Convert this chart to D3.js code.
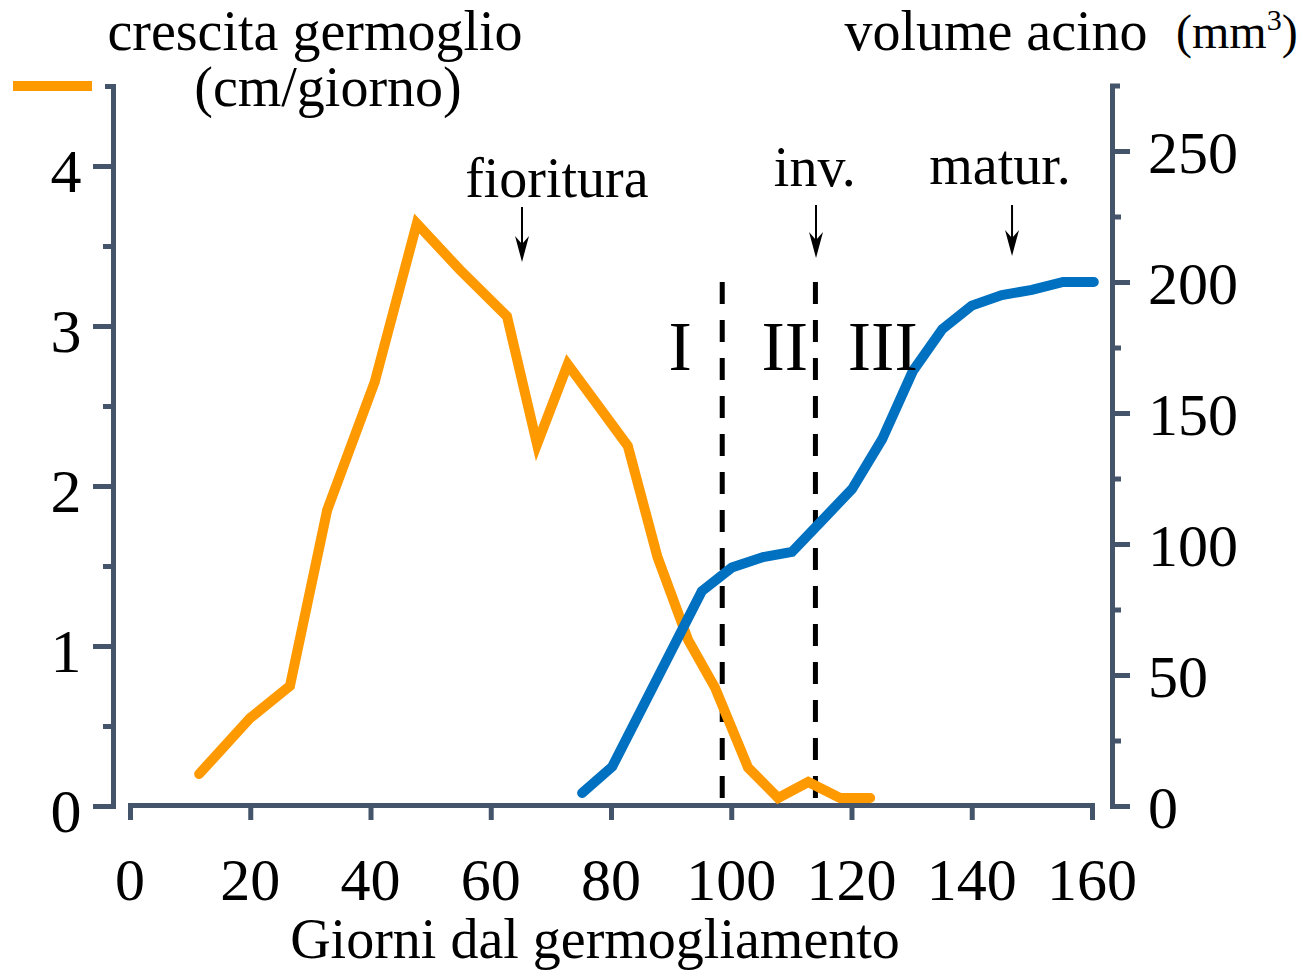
<!DOCTYPE html>
<html>
<head>
<meta charset="utf-8">
<script src="https://cdn.jsdelivr.net/npm/d3@7"></script>
<style>
  html, body { margin: 0; padding: 0; background: #fff; }
  svg { display: block; font-family: "Liberation Serif", "Times New Roman", serif; }
</style>
</head>
<body>
<svg id="chart" width="1303" height="976"></svg>
<script>
// Shoot growth rate (cm/day) by days from bud break
const shootDays   = [11.5, 20, 26.6, 32.8, 40.7, 47.7, 54.9, 62.7, 67.7, 72.8, 82.8, 87.7, 92.8, 97.3, 102.8, 107.8, 112.8, 118.1, 123.1];
const shootGrowth = [0.2, 0.55, 0.75, 1.85, 2.65, 3.64, 3.35, 3.06, 2.26, 2.76, 2.25, 1.56, 1.04, 0.74, 0.24, 0.05, 0.15, 0.05, 0.05];

// Berry volume (mm3) by days from bud break
const berryDays   = [75.2, 80.2, 95.1, 100.1, 105.3, 110.1, 115.1, 120.1, 125.1, 130.2, 135.1, 140, 145, 150, 155.2, 160.3];
const berryVolume = [5, 15, 82, 91, 95, 97, 109, 121, 140, 166, 182, 191, 195, 197, 200, 200];

// Axis ticks
const xTicks      = [0, 20, 40, 60, 80, 100, 120, 140, 160];
const leftTicks   = [0, 1, 2, 3, 4];
const leftMinor   = [0.5, 1.5, 2.5, 3.5];
const rightTicks  = [0, 50, 100, 150, 200, 250];
const rightMinor  = [25, 75, 125, 175, 225];

// Berry development phase boundaries and stage markers
const phaseBounds = [98.5, 114];
const phaseLabels = [{ t: "I", d: 91.5 }, { t: "II", d: 108.9 }, { t: "III", d: 125.2 }];
const stageMarks  = [
  { t: "fioritura", d: 65.2,  td: 71,    ty: 197, a0: 207, a1: 262 },
  { t: "inv.",      d: 114.1, td: 113.9, ty: 186, a0: 205, a1: 258 },
  { t: "matur.",    d: 146.7, td: 144.7, ty: 184, a0: 205, a1: 256 }
];

const AXIS = "#44546A", ORANGE = "#FF9900", BLUE = "#0070C0";

const svg = d3.select("#chart");

const x  = d3.scaleLinear().domain([0, 160]).range([130, 1092]);
const yL = d3.scaleLinear().domain([0, 4.5]).range([806, 86]);
const yR = d3.scaleLinear().domain([0, 275]).range([806, 85.5]);

function styleAxis(g) {
  g.selectAll("path, line").attr("stroke", AXIS).attr("stroke-width", 5);
  g.selectAll("text").remove();
}

// X axis
const gx = svg.append("g").attr("transform", "translate(0,805)")
  .call(d3.axisBottom(x).tickValues(xTicks).tickSize(15).tickSizeOuter(15));
styleAxis(gx);
svg.append("g").selectAll("text").data(xTicks).join("text")
  .attr("x", d => x(d)).attr("y", 900)
  .attr("text-anchor", "middle").attr("font-size", 60).attr("fill", "#000")
  .text(d => d);

// Left axis
const gl = svg.append("g").attr("transform", "translate(113,0)")
  .call(d3.axisLeft(yL).tickValues(leftTicks).tickSize(20).tickSizeOuter(8));
styleAxis(gl);
const glm = svg.append("g").attr("transform", "translate(113,0)")
  .call(d3.axisLeft(yL).tickValues(leftMinor).tickSize(10).tickSizeOuter(0));
styleAxis(glm);
glm.select(".domain").remove();
svg.append("g").selectAll("text").data(leftTicks).join("text")
  .attr("x", 66).attr("y", d => yL(d)).attr("dy", "0.42em")
  .attr("text-anchor", "middle").attr("font-size", 62).attr("fill", "#000")
  .text(d => d);

// Right axis
const gr = svg.append("g").attr("transform", "translate(1112,0)")
  .call(d3.axisRight(yR).tickValues(rightTicks).tickSize(18).tickSizeOuter(8));
styleAxis(gr);
const grm = svg.append("g").attr("transform", "translate(1112,0)")
  .call(d3.axisRight(yR).tickValues(rightMinor).tickSize(9).tickSizeOuter(0));
styleAxis(grm);
grm.select(".domain").remove();
svg.append("g").selectAll("text").data(rightTicks).join("text")
  .attr("x", 1148).attr("y", d => yR(d)).attr("dy", "0.36em")
  .attr("text-anchor", "start").attr("font-size", 60).attr("fill", "#000")
  .text(d => d);

// Phase boundaries (dashed)
svg.append("g").selectAll("line").data(phaseBounds).join("line")
  .attr("x1", d => x(d)).attr("x2", d => x(d))
  .attr("y1", yR(200)).attr("y2", yL(0))
  .attr("stroke", "#000").attr("stroke-width", 5)
  .attr("stroke-dasharray", "22,16");

// Series lines
const lineL = d3.line().x(d => x(d[0])).y(d => yL(d[1]));
const lineR = d3.line().x(d => x(d[0])).y(d => yR(d[1]));

svg.append("path")
  .datum(shootDays.map((d, i) => [d, shootGrowth[i]]))
  .attr("d", lineL).attr("fill", "none")
  .attr("stroke", ORANGE).attr("stroke-width", 10)
  .attr("stroke-linecap", "round").attr("stroke-linejoin", "miter");

svg.append("path")
  .datum(berryDays.map((d, i) => [d, berryVolume[i]]))
  .attr("d", lineR).attr("fill", "none")
  .attr("stroke", BLUE).attr("stroke-width", 10)
  .attr("stroke-linecap", "round").attr("stroke-linejoin", "miter");

// Phase labels
svg.append("g").selectAll("text").data(phaseLabels).join("text")
  .attr("x", d => x(d.d)).attr("y", 370)
  .attr("text-anchor", "middle").attr("font-size", 70).attr("fill", "#000")
  .text(d => d.t);

// Stage markers with arrows
const marks = svg.append("g").selectAll("g").data(stageMarks).join("g");
marks.append("text")
  .attr("x", d => x(d.td)).attr("y", d => d.ty)
  .attr("text-anchor", "middle").attr("font-size", 56).attr("fill", "#000")
  .text(d => d.t);
marks.append("line")
  .attr("x1", d => x(d.d)).attr("x2", d => x(d.d))
  .attr("y1", d => d.a0).attr("y2", d => d.a1 - 10)
  .attr("stroke", "#000").attr("stroke-width", 2);
marks.append("path")
  .attr("d", d => {
    const cx = x(d.d), t = d.a1;
    return `M${cx},${t} L${cx - 7},${t - 26} L${cx},${t - 18} L${cx + 7},${t - 26} Z`;
  })
  .attr("fill", "#000");

// Axis titles
svg.append("text").attr("x", 315).attr("y", 50)
  .attr("text-anchor", "middle").attr("font-size", 56).text("crescita germoglio");
svg.append("text").attr("x", 328).attr("y", 106)
  .attr("text-anchor", "middle").attr("font-size", 56).text("(cm/giorno)");
svg.append("line").attr("x1", 13).attr("x2", 92).attr("y1", 86).attr("y2", 86)
  .attr("stroke", ORANGE).attr("stroke-width", 10);

svg.append("text").attr("x", 996).attr("y", 50)
  .attr("text-anchor", "middle").attr("font-size", 56).text("volume acino");
const unit = svg.append("text").attr("x", 1176).attr("y", 48)
  .attr("text-anchor", "start").attr("font-size", 48);
unit.append("tspan").text("(mm");
unit.append("tspan").attr("font-size", 30).attr("dy", -18).text("3");
unit.append("tspan").attr("dy", 18).text(")");

svg.append("text").attr("x", 595).attr("y", 958)
  .attr("text-anchor", "middle").attr("font-size", 56).text("Giorni dal germogliamento");
</script>
</body>
</html>
